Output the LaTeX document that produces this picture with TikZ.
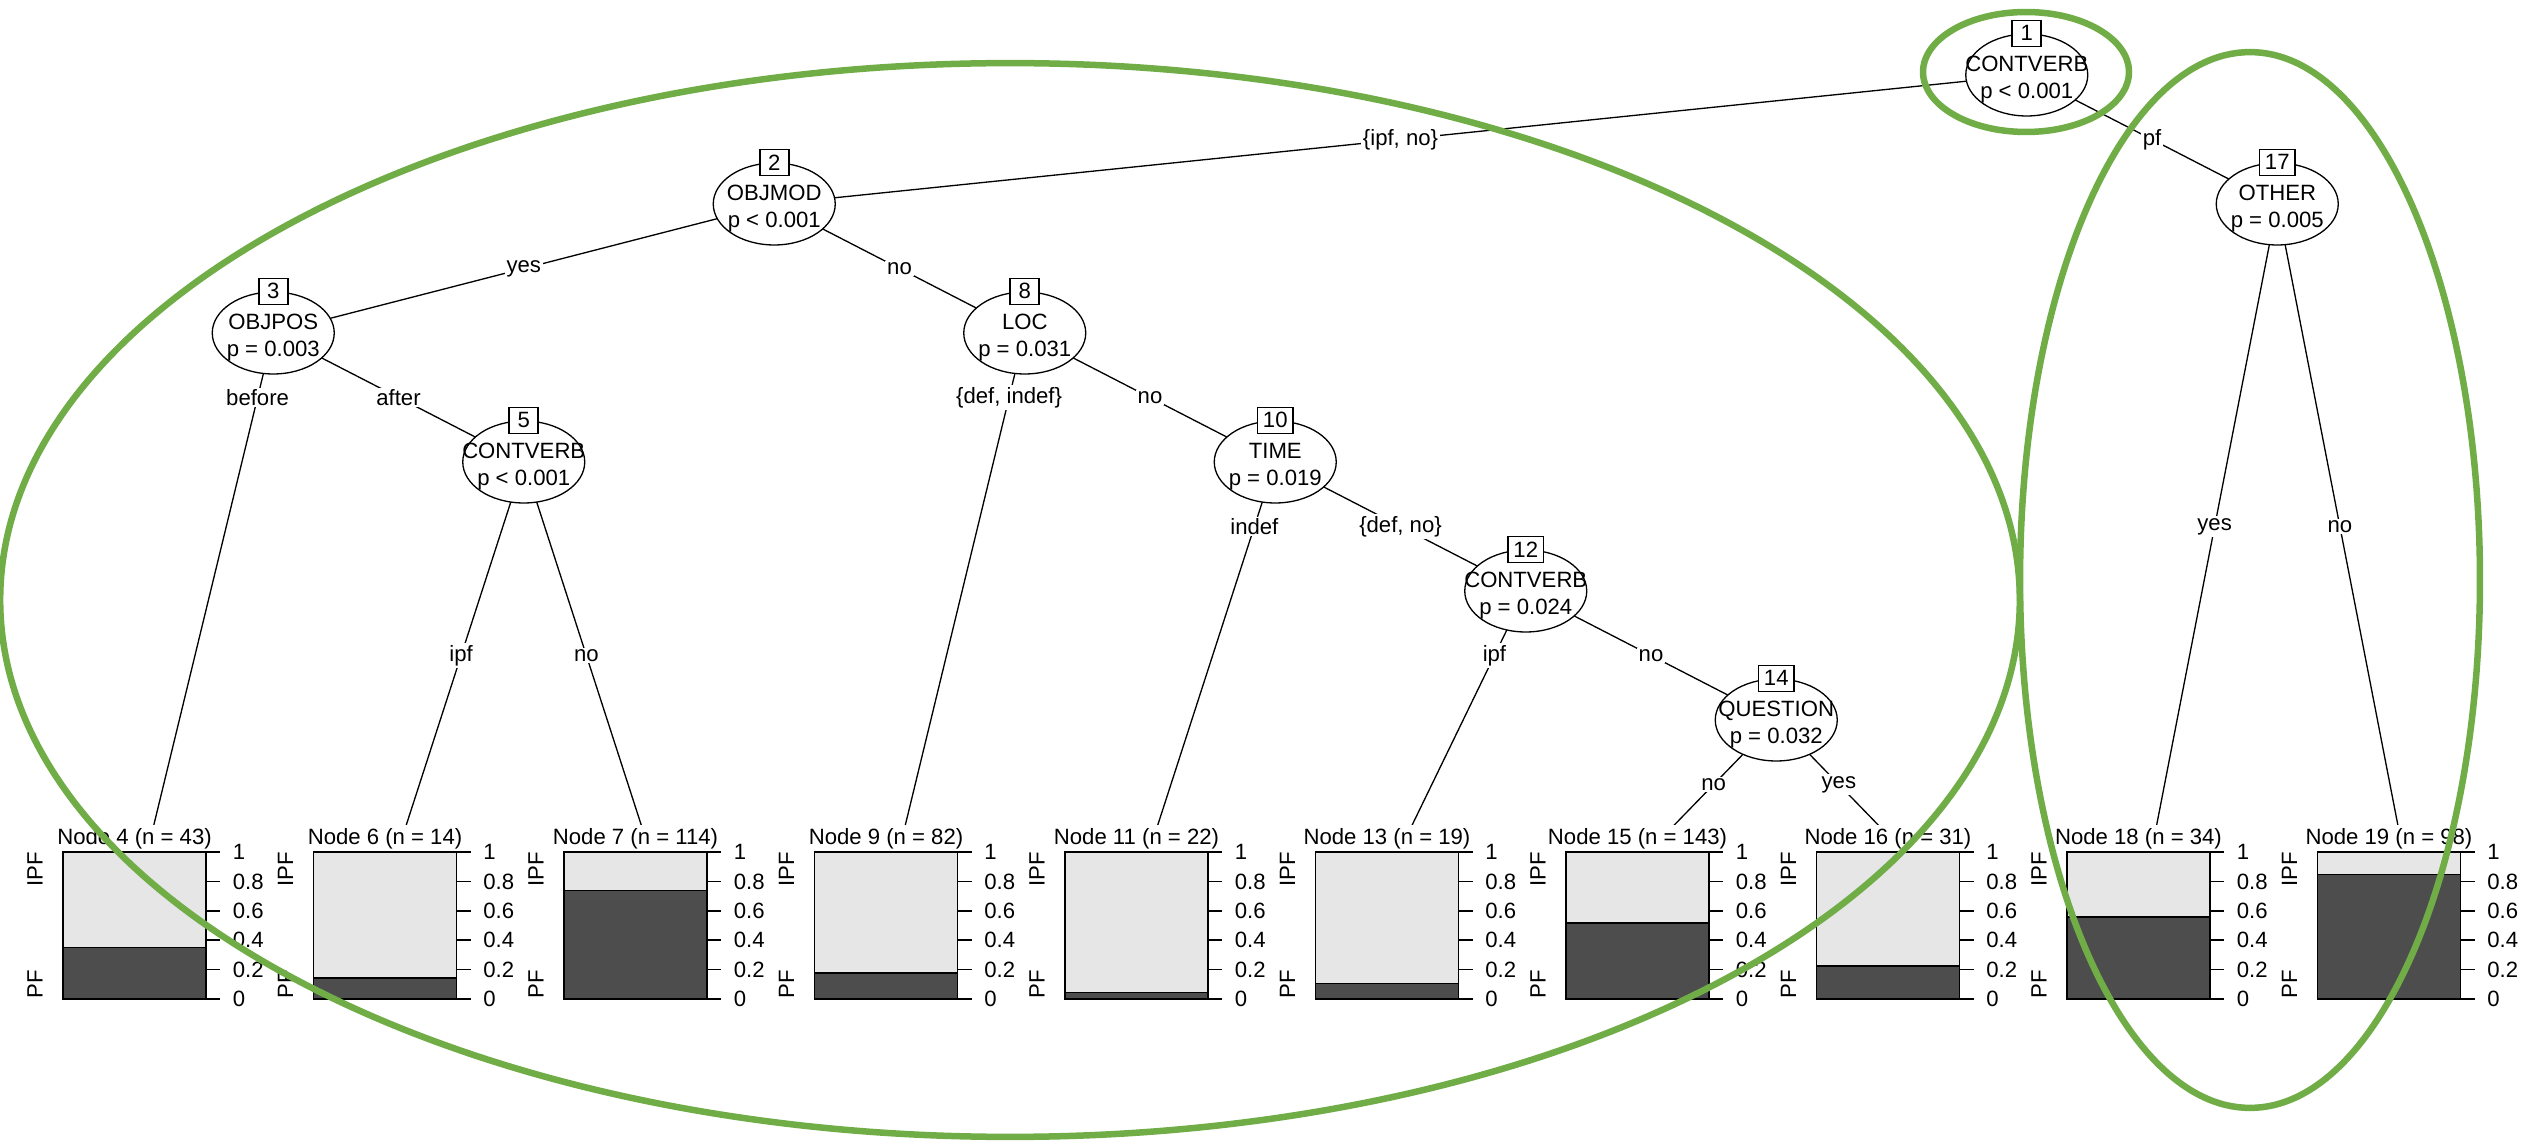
\documentclass[tikz,border=0pt]{standalone}
\usepackage{fontspec}
\setmainfont{Liberation Sans}
\usepackage{xcolor}
\usepackage{tikz}
\usetikzlibrary{shapes,calc,backgrounds}

\definecolor{hilite}{RGB}{112,173,71}
\definecolor{pfgray}{RGB}{77,77,77}
\definecolor{ipfgray}{RGB}{230,230,230}

% inner split: name, x, y, id, variable, p value
\newcommand{\splitnode}[6]{%
  \node[split] (#1) at (#2,#3) {};
  \node[splittxt] at ($(#1)+(0,5)$) {#5\\#6};
  \node[idbox] at (#1.north) {#4};
}

% terminal panel: name, x of edge end, title, share of PF
\newcommand{\leafplot}[4]{%
  \pgfmathsetmacro{\xl}{#2-85}
  \pgfmathsetmacro{\xr}{#2+58}
  \pgfmathsetmacro{\ysp}{999-147*#4}
  \coordinate (#1) at (#2,849);
  \node[leaftitle] (#1t) at (#2-13.5,839) {#3};
  \draw[bar,fill=pfgray] (\xl,999) rectangle (\xr,\ysp);
  \draw[bar,fill=ipfgray] (\xl,\ysp) rectangle (\xr,852);
  \foreach \v in {0,0.2,0.4,0.6,0.8,1}
    \draw[bar] (\xr,999-147*\v) -- ++(14,0) node[ticklbl] {\v};
  \node[classlbl,anchor=east] at (\xl-28,852) {IPF};
  \node[classlbl,anchor=west] at (\xl-28,999) {PF};
}

\begin{document}
\begin{tikzpicture}[x=0.02cm,y=-0.02cm,font=\fontsize{12.6}{15.3}\selectfont]
\tikzset{split/.style={ellipse, draw, fill=white, line width=0.75pt, inner sep=0pt, minimum width=2.44cm, minimum height=1.64cm},
  splittxt/.style={align=center, inner sep=0pt},
  idbox/.style={draw, fill=white, line width=0.9pt, inner xsep=0.11cm, inner ysep=0pt, minimum width=0.58cm, minimum height=0.52cm},
  edge/.style={line width=0.75pt},
  edgelbl/.style={fill=white, inner sep=1pt},
  leaftitle/.style={fill=white, inner xsep=2pt, inner ysep=0pt, minimum height=0.56cm},
  bar/.style={line width=0.9pt},
  ticklbl/.style={anchor=west, inner sep=0pt, xshift=0.24cm},
  classlbl/.style={rotate=90, inner sep=0pt},
  ring/.style={draw=hilite, line width=3.7pt}}
\useasboundingbox (0,0) rectangle (2526,1141);

% splits
\splitnode{n1}{2026.75}{75}{1}{CONTVERB}{p < 0.001}
\splitnode{n2}{774.25}{204}{2}{OBJMOD}{p < 0.001}
\splitnode{n3}{273.25}{333}{3}{OBJPOS}{p = 0.003}
\splitnode{n5}{523.75}{462}{5}{CONTVERB}{p < 0.001}
\splitnode{n8}{1024.75}{333}{8}{LOC}{p = 0.031}
\splitnode{n10}{1275.25}{462}{10}{TIME}{p = 0.019}
\splitnode{n12}{1525.75}{591}{12}{CONTVERB}{p = 0.024}
\splitnode{n14}{1776.25}{720}{14}{QUESTION}{p = 0.032}
\splitnode{n17}{2277.25}{204}{17}{OTHER}{p = 0.005}

% leaves
\leafplot{e4}{148}{Node 4 (n = 43)}{0.349}
\leafplot{e6}{398.5}{Node 6 (n = 14)}{0.143}
\leafplot{e7}{649}{Node 7 (n = 114)}{0.737}
\leafplot{e9}{899.5}{Node 9 (n = 82)}{0.177}
\leafplot{e11}{1150}{Node 11 (n = 22)}{0.045}
\leafplot{e13}{1400.5}{Node 13 (n = 19)}{0.105}
\leafplot{e15}{1651}{Node 15 (n = 143)}{0.517}
\leafplot{e16}{1901.5}{Node 16 (n = 31)}{0.226}
\leafplot{e18}{2152}{Node 18 (n = 34)}{0.559}
\leafplot{e19}{2402.5}{Node 19 (n = 98)}{0.847}

% edges
\begin{scope}[on background layer]
\draw[edge] (n1.center) -- node[edgelbl] {\{ipf, no\}} (n2.center);
\draw[edge] (n1.center) -- node[edgelbl] {pf} (n17.center);
\draw[edge] (n2.center) -- node[edgelbl] {yes} (n3.center);
\draw[edge] (n2.center) -- node[edgelbl] {no} (n8.center);
\draw[edge] (n3.center) -- node[edgelbl,pos=0.125] {before} (e4);
\draw[edge] (n3.center) -- node[edgelbl] {after} (n5.center);
\draw[edge] (n5.center) -- node[edgelbl] {ipf} (e6);
\draw[edge] (n5.center) -- node[edgelbl] {no} (e7);
\draw[edge] (n8.center) -- node[edgelbl,pos=0.125] {\{def, indef\}} (e9);
\draw[edge] (n8.center) -- node[edgelbl] {no} (n10.center);
\draw[edge] (n10.center) -- node[edgelbl,pos=0.1667] {indef} (e11);
\draw[edge] (n10.center) -- node[edgelbl] {\{def, no\}} (n12.center);
\draw[edge] (n12.center) -- node[edgelbl,pos=0.25] {ipf} (e13);
\draw[edge] (n12.center) -- node[edgelbl] {no} (n14.center);
\draw[edge] (n14.center) -- node[edgelbl] {no} (e15);
\draw[edge] (n14.center) -- node[edgelbl] {yes} (e16);
\draw[edge] (n17.center) -- node[edgelbl] {yes} (e18);
\draw[edge] (n17.center) -- node[edgelbl] {no} (e19);
\end{scope}

% highlight rings
\draw[ring] (1010,600) ellipse [x radius=20.2cm, y radius=10.74cm];
\draw[ring] (2026,72) ellipse [x radius=2.06cm, y radius=1.2cm];
\draw[ring] (2250,580) ellipse [x radius=4.6cm, y radius=10.56cm];
\end{tikzpicture}
\end{document}
